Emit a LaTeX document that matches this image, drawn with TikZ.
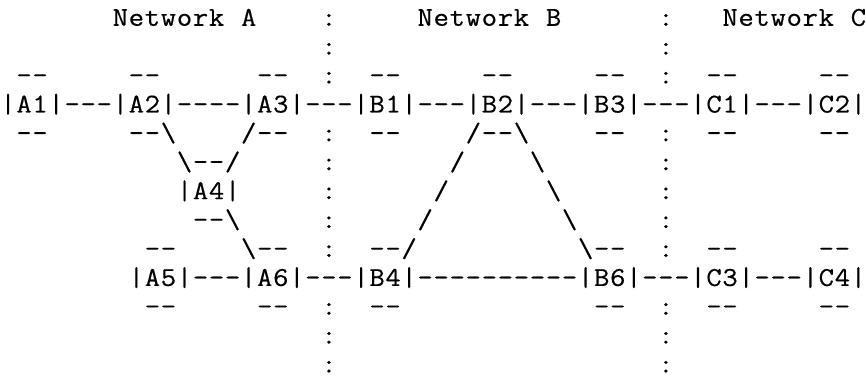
\documentclass[tikz,border=0pt]{standalone}
\usepackage{fontspec}
\setmonofont{Latin Modern Mono}[FakeBold=0.4,FakeStretch=1.1]
\newlength\cw
\setlength\cw{8.023pt}
\newcommand\bs{\textbackslash}
\makeatletter
\def\cells#1{\cells@#1\@nil}
\def\cells@#1{\ifx#1\@nil\expandafter\@gobble\else\expandafter\@firstofone\fi{\cellone{#1}\cells@}}
\def\cellone#1{\ifx#1_\hspace*{\cw}\else\makebox[\cw]{#1}\fi}
\makeatother
\begin{document}
\begin{tikzpicture}[x=1pt,y=1pt,
  row/.style={anchor=base west, inner sep=0pt, outer sep=0pt,
    font=\ttfamily\fontsize{13.6pt}{14.45pt}\selectfont}]
\useasboundingbox[fill=white] (0,0) rectangle (433,-189);
\node[row] (r1)  at (0,-12.90) {\cells{_______Network_A____:_____Network_B______:___Network_C}};
\node[row] (r2)  at (0,-27.35) {\cells{____________________:____________________:}};
\node[row] (r3)  at (0,-41.80) {\cells{_--_____--______--__:__--_____--_____--__:__--_____--}};
\node[row] (r4)  at (0,-56.25) {\cells{|A1|---|A2|----|A3|---|B1|---|B2|---|B3|---|C1|---|C2|}};
\node[row] (r5)  at (0,-70.70) {\cells{_--_____--\bs____/--__:__--____/--\bs____--__:__--_____--}};
\node[row] (r6)  at (0,-85.15) {\cells{___________\bs--/_____:_______/____\bs_______:}};
\node[row] (r7)  at (0,-99.60) {\cells{___________|A4|_____:______/______\bs______:}};
\node[row] (r8)  at (0,-114.05) {\cells{____________--\bs_____:_____/________\bs_____:}};
\node[row] (r9)  at (0,-128.50) {\cells{_________--____\bs--__:__--/__________\bs--__:__--_____--}};
\node[row] (r10) at (0,-142.95) {\cells{________|A5|---|A6|---|B4|----------|B6|---|C3|---|C4|}};
\node[row] (r11) at (0,-157.40) {\cells{_________--_____--__:__--____________--__:__--_____--}};
\node[row] (r12) at (0,-171.85) {\cells{____________________:____________________:}};
\node[row] (r13) at (0,-186.30) {\cells{____________________:____________________:}};
\end{tikzpicture}
\end{document}
